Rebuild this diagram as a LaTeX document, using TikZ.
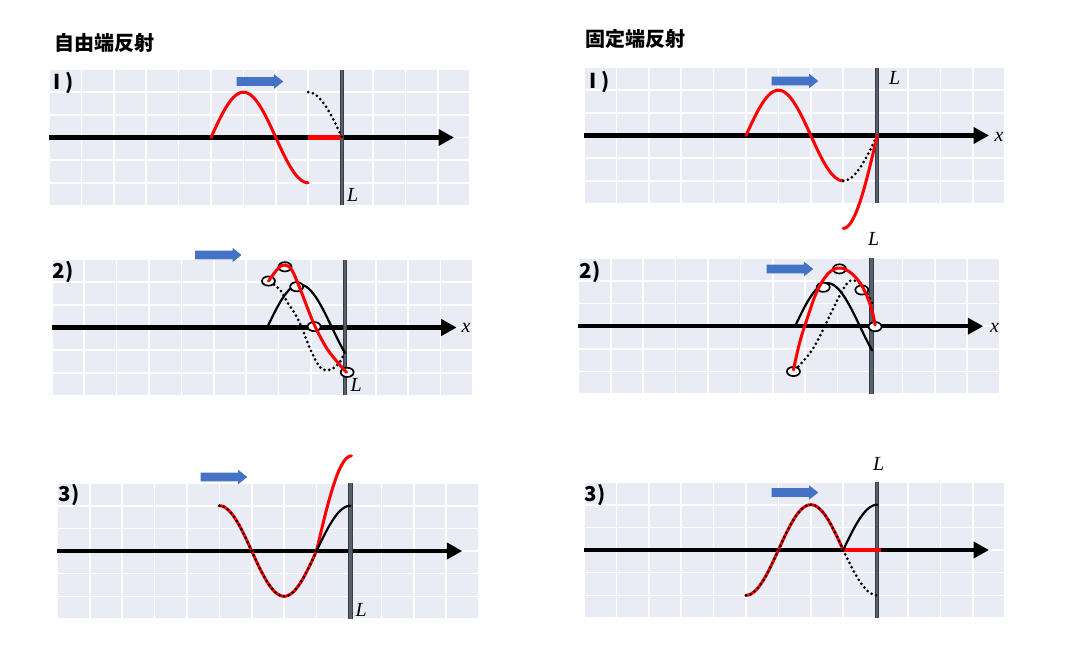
\documentclass[tikz,border=0pt]{standalone}
\usepackage{fontspec}
\newfontfamily\cjk{Noto Sans CJK JP}
\newfontfamily\tms{Liberation Serif}
\usetikzlibrary{arrows.meta}
\definecolor{bgc}{HTML}{E9EBF5}
\definecolor{wallb}{HTML}{363B44}
\definecolor{wallc}{HTML}{58606D}
\definecolor{arrowblue}{HTML}{4472C4}
\newcommand\pbase{%
  \fill[bgc] (0,-3) rectangle (13,3);
  \draw[gridln,step=1] (0,-3) grid (13,3);
  \draw[axisln] (0,0) -- (12.5,0);
  \draw[wallout] (9.05,-3) -- (9.05,3);
  \draw[wallin] (9.05,-3) -- (9.05,3);
}
\begin{document}
\begin{tikzpicture}[x=1pt,y=-1pt,
  gridln/.style={draw=white, line width=1.6pt},
  axisln/.style={line width=4.5pt, -{Triangle[length=15.5pt,width=16pt]}},
  wallout/.style={line width=4.2pt, draw=wallb},
  wallin/.style={line width=2.4pt, draw=wallc},
  redc/.style={draw=red, line width=3pt, line cap=round},
  redflat/.style={draw=red, line width=4.5pt},
  blk/.style={draw=black, line width=2.2pt, line cap=round},
  dotln/.style={draw=black, line width=3pt, line cap=round, dash pattern=on 0pt off 4.8pt},
  ring/.style={draw=black, fill=white, line width=1.7pt},
  lbl/.style={font=\cjk\bfseries\fontsize{20.5}{20.5}\selectfont, inner sep=0pt, anchor=base west},
  ttl/.style={font=\cjk\bfseries\fontsize{20}{20}\selectfont, inner sep=0pt, anchor=west},
  mth/.style={font=\tms\itshape\fontsize{20}{20}\selectfont, inner sep=0pt, anchor=base west},
  barrow/.pic={\fill[arrowblue] (0,-4.3) -- (37.5,-4.3) -- (37.5,-7.2) -- (46.5,0) -- (37.5,7.2) -- (37.5,4.3) -- (0,4.3) -- cycle;},
]
\useasboundingbox (0,0) rectangle (1070,660);

% titles
\node[ttl] (t1) at (54,43.4) {自由端反射};
\node[ttl] (t2) at (585.5,39.2) {固定端反射};

% ---------- A1 ----------
\begin{scope}[shift={(49,137.5)}, x=32.4pt, y=22.65pt]
  \pbase
  \draw[redflat] (8,0) -- (9.0,0);
  \draw[dotln] plot[domain=8:9.05, samples=20] (\x, {2*cos(90*(\x-8)/1.05)});
  \draw[redc] plot[domain=5:8, samples=50] (\x, {2*sin(90*(\x-5))});
\end{scope}

% ---------- A2 ----------
\begin{scope}[shift={(51.7,327.5)}, x=32.4pt, y=22.65pt]
  \pbase
  \draw[blk] plot[domain=6.65:9.05, samples=50] (\x, {1.9*sin(90*(\x-6.65))});
  \draw[dotln] plot[smooth, tension=0.6] coordinates {(6.74,2.02) (7.05,1.66) (7.29,1.08) (7.56,0.48) (7.77,-0.19) (7.97,-0.92) (8.23,-1.66) (8.44,-1.88) (8.69,-1.8) (8.9,-1.51) (9.05,-1.07)};
  \foreach \p in {(6.69,2.05),(7.2,2.68),(7.56,1.8),(8.1,0.04),(9.12,-1.98)}
    \draw[ring] \p ellipse [x radius=6.5pt, y radius=4.6pt];
  \draw[redc] plot[smooth, tension=0.6] coordinates {(6.69,2.05) (6.99,2.61) (7.2,2.76) (7.41,2.54) (7.66,1.73) (7.92,0.77) (8.13,0.04) (8.49,-0.92) (8.85,-1.58) (9.1,-1.98)};
\end{scope}

% ---------- A3 ----------
\begin{scope}[shift={(57.3,551)}, x=32.4pt, y=22.65pt]
  \pbase
  \draw[redc] plot[domain=5:8, samples=50] (\x, {2*cos(90*(\x-5))});
  \draw[redc] plot[domain=8:9.08, samples=30] (\x, {4.2*sin(90*(\x-8)/1.08)});
  \draw[blk] plot[domain=8:9.05, samples=30] (\x, {2*sin(90*(\x-8)/1.05)});
  \draw[dotln] plot[domain=5:8, samples=50] (\x, {2*cos(90*(\x-5))});
\end{scope}

% ---------- B1 ----------
\begin{scope}[shift={(584,135.5)}, x=32.4pt, y=22.65pt]
  \pbase
  \draw[redc] plot[domain=5:8, samples=50] (\x, {2*sin(90*(\x-5))});
  \draw[dotln] plot[domain=8:9.05, samples=20] (\x, {-2*cos(90*(\x-8)/1.05)});
  \draw[redc] plot[domain=8:9.05, samples=30] (\x, {-4.1*cos(90*(\x-8)/1.05)});
\end{scope}

% ---------- B2 ----------
\begin{scope}[shift={(578.3,326.2)}, x=32.4pt, y=22.65pt]
  \pbase
  \draw[blk] plot[domain=6.69:9.07, samples=50] (\x, {1.9*sin(90*(\x-6.69))});
  \draw[dotln] plot[smooth, tension=0.6] coordinates {(6.69,-1.93) (7.25,-0.98) (7.77,0.49) (8.13,1.52) (8.39,2.0) (8.69,1.89) (8.95,1.38) (9.07,1.01)};
  \foreach \p in {(6.64,-2.0),(7.56,1.72),(8.06,2.53),(8.75,1.6),(9.16,-0.02)}
    \draw[ring] \p ellipse [x radius=6.5pt, y radius=4.6pt];
  \draw[redc] plot[smooth, tension=0.6] coordinates {(6.64,-1.93) (6.84,-0.68) (7.1,0.49) (7.36,1.52) (7.67,2.26) (7.98,2.56) (8.28,2.48) (8.59,2.11) (8.85,1.52) (9.06,0.72) (9.16,0.05)};
\end{scope}

% ---------- B3 ----------
\begin{scope}[shift={(584,550)}, x=32.4pt, y=22.65pt]
  \pbase
  \draw[redc] plot[domain=5:8, samples=50] (\x, {-2*cos(90*(\x-5))});
  \draw[redflat] (8,0) -- (9.17,0);
  \draw[blk] plot[domain=8:9.05, samples=30] (\x, {2*sin(90*(\x-8)/1.05)});
  \draw[dotln] plot[domain=8:9.05, samples=30] (\x, {-2*sin(90*(\x-8)/1.05)});
  \draw[dotln] plot[domain=5:8, samples=50] (\x, {-2*cos(90*(\x-5))});
\end{scope}

% blue arrows
\pic at (236.7,81.5) {barrow};
\pic at (195,255) {barrow};
\pic at (200.7,477) {barrow};
\pic at (771.7,81) {barrow};
\pic at (766.7,269) {barrow};
\pic at (771.7,492.5) {barrow};

% panel labels
\node[lbl] (a1l) at (53,90) {I )};
\node[lbl] (a2l) at (52.5,278) {2)};
\node[lbl] (a3l) at (58.5,501.7) {3)};
\node[lbl] (b1l) at (589,88.3) {I )};
\node[lbl] (b2l) at (579.5,278) {2)};
\node[lbl] (b3l) at (584.5,501.7) {3)};

% L and x labels
\node[mth] (a1L) at (347,201.7) {L};
\node[mth] (a2L) at (350.5,391) {L};
\node[mth] (a2x) at (461.5,332.7) {x};
\node[mth] (a3L) at (355.5,616) {L};
\node[mth] (b1L) at (889,84.5) {L};
\node[mth] (b1x) at (994.5,141.7) {x};
\node[mth] (b2L) at (868,246) {L};
\node[mth] (b2x) at (990,332) {x};
\node[mth] (b3L) at (873,470) {L};
\end{tikzpicture}
\end{document}
